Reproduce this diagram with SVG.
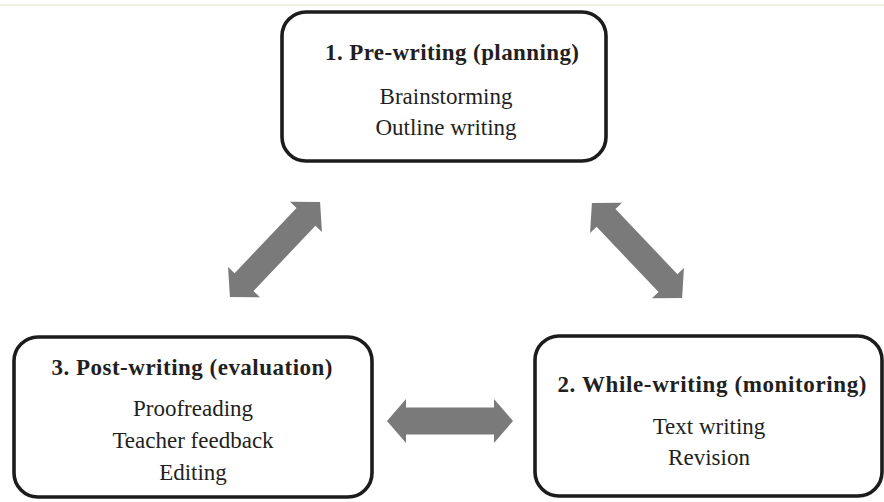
<svg xmlns="http://www.w3.org/2000/svg" width="884" height="502" viewBox="0 0 884 502">
  <style>
    .box { fill: #ffffff; stroke: #1c1c1c; stroke-width: 3.6; }
    .title { font-family: "Liberation Serif", "Times New Roman", serif; font-weight: bold; font-size: 23px; fill: #231f20; text-anchor: middle; }
    .item { font-family: "Liberation Serif", "Times New Roman", serif; font-size: 23px; fill: #231f20; text-anchor: middle; }
    .arrow { fill: #7a7a7a; }
  </style>
  <defs>
    <!-- double-headed block arrow, centred on the origin along the x axis -->
    <polygon id="dbl126" points="-63,0 -44,-22 -44,-13.5 44,-13.5 44,-22 63,0 44,22 44,13.5 -44,13.5 -44,22"/>
    <polygon id="dbl131" points="-65.5,0 -45,-22 -45,-13 45,-13 45,-22 65.5,0 45,22 45,13 -45,13 -45,22"/>
  </defs>

  <rect x="0" y="0" width="884" height="502" fill="#ffffff"/>
  <line x1="0" y1="5" x2="884" y2="5" stroke="#eee9de" stroke-width="1.5"/>

  <g id="connectors" class="arrow">
    <use href="#dbl131" transform="translate(275 249.5) rotate(-46.5)"/>
    <use href="#dbl131" transform="translate(637 250.5) rotate(46.5)"/>
    <use href="#dbl126" transform="translate(450 421)"/>
  </g>

  <g id="pre-writing">
    <rect class="box" x="282" y="12" width="324" height="149" rx="24"/>
    <text class="title" x="452" y="60" textLength="254">1. Pre-writing (planning)</text>
    <text class="item" x="446" y="104">Brainstorming</text>
    <text class="item" x="446" y="135">Outline writing</text>
  </g>

  <g id="while-writing">
    <rect class="box" x="535" y="336" width="347" height="160" rx="24"/>
    <text class="title" x="712" y="392" textLength="309">2. While-writing (monitoring)</text>
    <text class="item" x="709" y="434">Text writing</text>
    <text class="item" x="709" y="465">Revision</text>
  </g>

  <g id="post-writing">
    <rect class="box" x="14" y="337" width="358" height="160" rx="24"/>
    <text class="title" x="192" y="375" textLength="281">3. Post-writing (evaluation)</text>
    <text class="item" x="193" y="416">Proofreading</text>
    <text class="item" x="193" y="448">Teacher feedback</text>
    <text class="item" x="193" y="480">Editing</text>
  </g>
</svg>
